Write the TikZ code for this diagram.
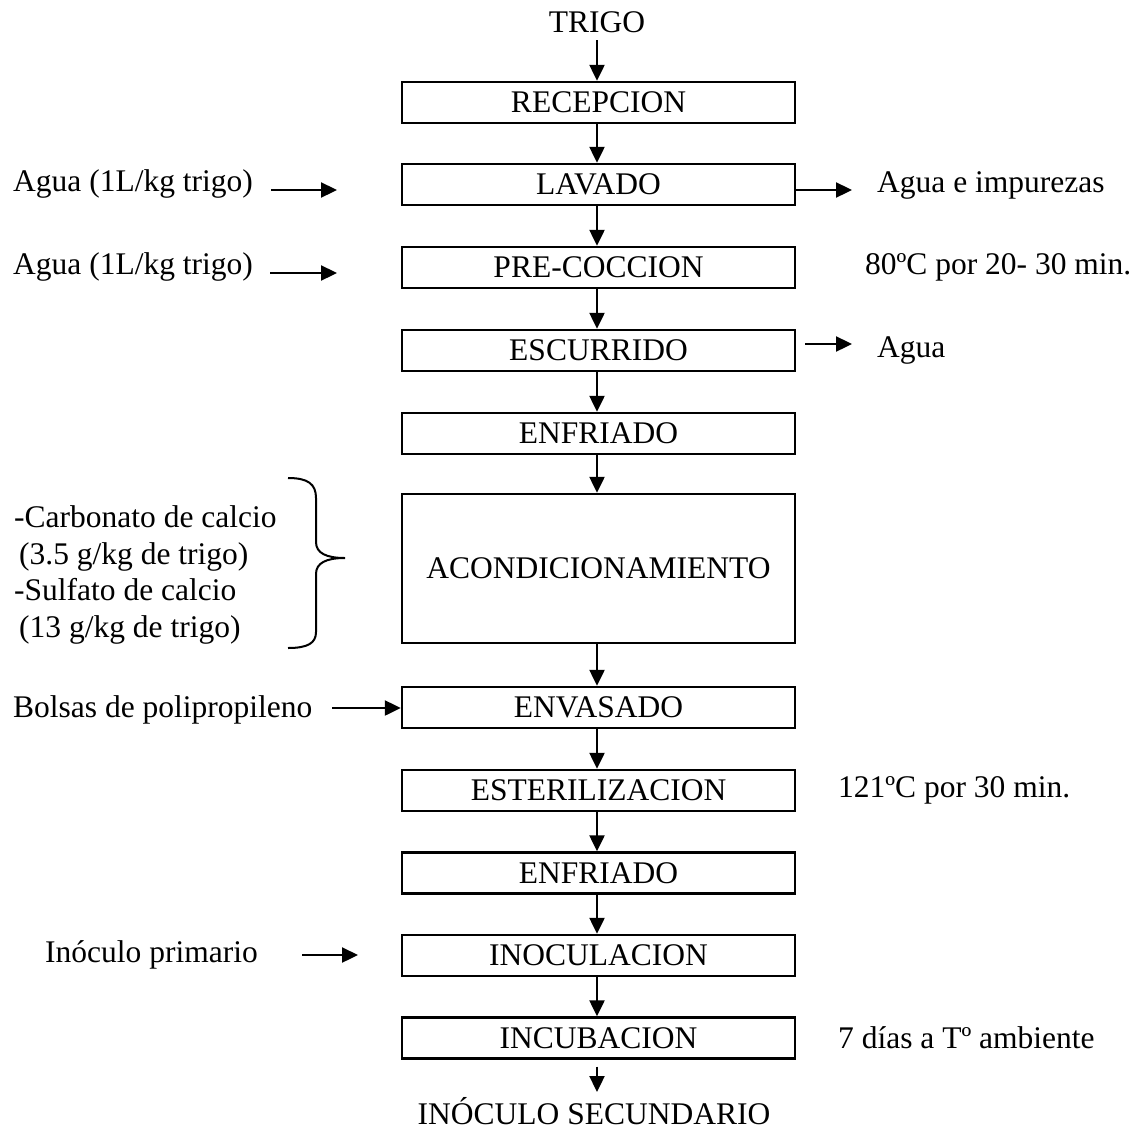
\documentclass[tikz,border=0pt]{standalone}
\usepackage{fontspec}
\setmainfont{Liberation Serif}
\usetikzlibrary{arrows.meta,calc}
\begin{document}
\begin{tikzpicture}[x=1pt,y=-1pt,
  every node/.style={font=\fontsize{31.5}{36.8}\selectfont, inner sep=0pt},
  stage/.style={draw, line width=2.4pt, minimum width=393pt, minimum height=41pt, anchor=center},
  arr/.style={line width=2.3pt, -{Triangle[length=16pt,width=15pt]}},
  note/.style={anchor=west},
  curly/.style={line width=2pt}]
\useasboundingbox (0,0) rectangle (1147,1135);

% main column of process stages
\node (trigo) at (597,22) {TRIGO};
\node[stage] (rec) at (598.5,102.5) {RECEPCION};
\node[stage] (lav) at (598.5,184.5) {LAVADO};
\node[stage] (pre) at (598.5,267.5) {PRE-COCCION};
\node[stage] (esc) at (598.5,350.5) {ESCURRIDO};
\node[stage] (enf) at (598.5,433.5) {ENFRIADO};
\node[stage, minimum height=149pt] (acond) at (598.5,568.5) {ACONDICIONAMIENTO};
\node[stage] (env) at (598.5,707.5) {ENVASADO};
\node[stage] (est) at (598.5,790.5) {ESTERILIZACION};
\node[stage] (enf2) at (598.5,873) {ENFRIADO};
\node[stage] (inoc) at (598.5,955.5) {INOCULACION};
\node[stage] (incub) at (598.5,1038) {INCUBACION};
\node[anchor=base] (salida) at (594,1124) {INÓCULO SECUNDARIO};

% vertical flow
\coordinate (tstart) at (597,40);
\draw[arr] (tstart) -- (rec.north -| tstart);
\foreach \a/\b in {rec/lav, lav/pre, pre/esc, esc/enf, enf/acond, acond/env, env/est, est/enf2, enf2/inoc, inoc/incub}
  \draw[arr] ([xshift=-1.5pt]\a.south) -- ([xshift=-1.5pt]\b.north);
\coordinate (fin) at (597,1092);
\draw[arr] ([xshift=-1.5pt,yshift=-7pt]incub.south) -- (fin);

% inputs on the left
\node[note] (agua1) at (13,184) {Agua (1L/kg trigo)};
\coordinate (a1s) at (271,190); \coordinate (a1e) at (337,190);
\draw[arr] (a1s) -- (a1e);
\node[note] (agua2) at (13,267) {Agua (1L/kg trigo)};
\coordinate (a2s) at (270,273); \coordinate (a2e) at (337,273);
\draw[arr] (a2s) -- (a2e);
\node[note, align=left] (sales) at (14,575) {-Carbonato de calcio\\\hspace{5pt}(3.5 g/kg de trigo)\\-Sulfato de calcio\\\hspace{5pt}(13 g/kg de trigo)};
\draw[curly] (288,478) .. controls (308,478) and (316,484) .. (316,498)
  -- (316,542) .. controls (316,553) and (326,558) .. (345,558)
  .. controls (326,558) and (316,563) .. (316,574)
  -- (316,632) .. controls (316,643) and (308,648) .. (288,648);
\node[note] (bolsas) at (13,710) {Bolsas de polipropileno};
\coordinate (bs) at (332,708);
\draw[arr] (bs) -- (env.west |- bs);
\node[note] (inoprim) at (45,955) {Inóculo primario};
\coordinate (is) at (302,955); \coordinate (ie) at (358,955);
\draw[arr] (is) -- (ie);

% outputs and conditions on the right
\coordinate (le) at (852,190);
\draw[arr] ([yshift=-5.5pt]lav.east) -- (le);
\node[note] (impur) at (877,185) {Agua e impurezas};
\node[note] (cond1) at (865,267) {80ºC por 20- 30 min.};
\coordinate (es) at (805,344); \coordinate (ee) at (852,344);
\draw[arr] (es) -- (ee);
\node[note] (agua3) at (877,350) {Agua};
\node[note] (cond2) at (838,790) {121ºC por 30 min.};
\node[note] (cond3) at (838,1038) {7 días a Tº ambiente};
\end{tikzpicture}
\end{document}
